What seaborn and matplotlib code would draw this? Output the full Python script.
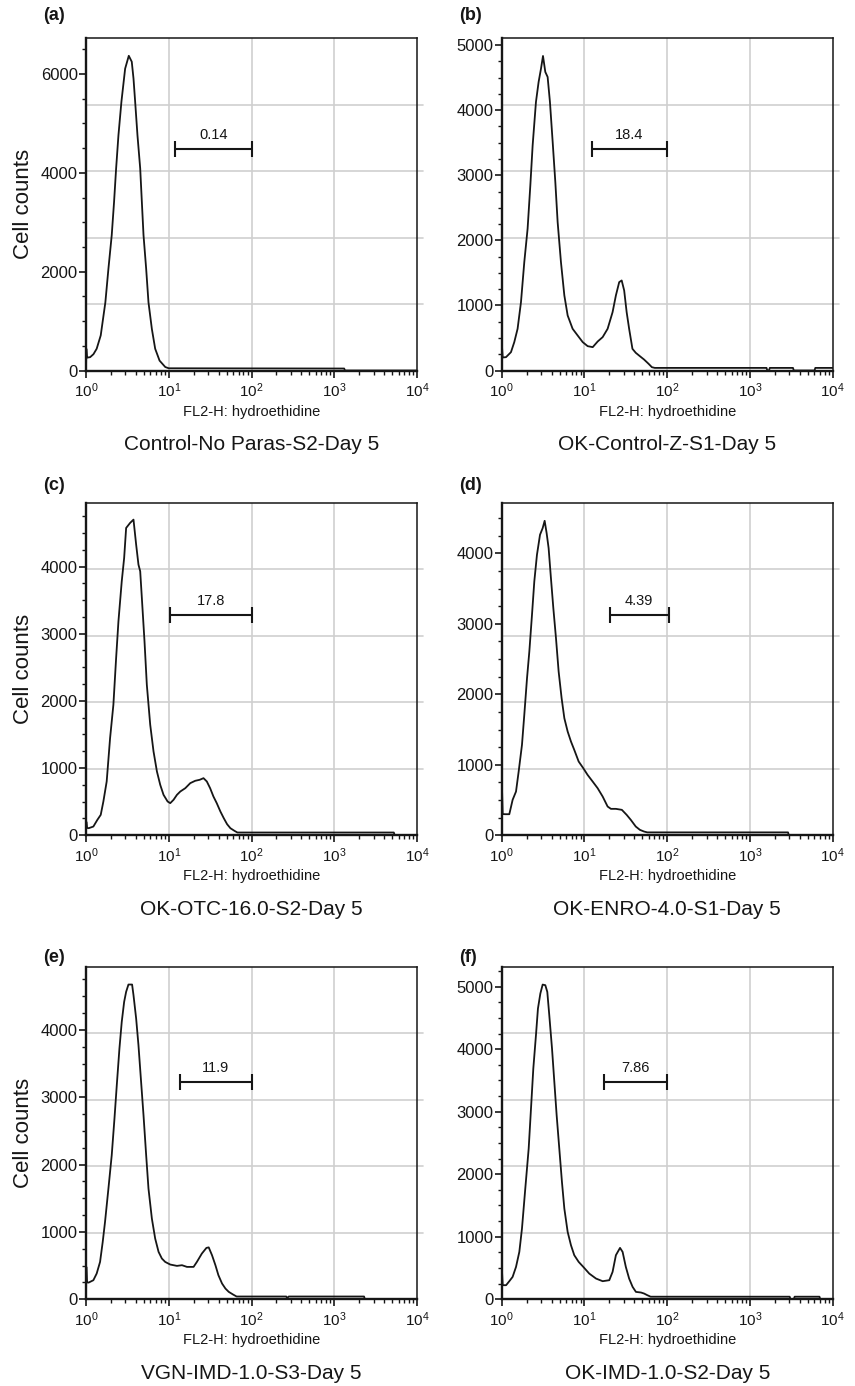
import numpy as np
import matplotlib
matplotlib.use("Agg")
import matplotlib.pyplot as plt
from matplotlib.ticker import MultipleLocator, LogLocator, NullFormatter
import seaborn as sns

# ---------------------------------------------------------------
# FL2-H (hydroethidine) histograms, six samples, day 5
# x values are read as decades (log10 of FL2-H), y = cell counts
# ---------------------------------------------------------------

a_log_fl = [0, 0.004, 0.012, 0.05, 0.09, 0.129, 0.178, 0.234, 0.271, 0.311,
            0.339, 0.364, 0.392, 0.428, 0.473, 0.517, 0.553, 0.574, 0.594, 0.622,
            0.655, 0.675, 0.695, 0.727, 0.755, 0.796, 0.836, 0.889, 0.958, 1.0,
            3.12, 3.13, 4.0]
a_counts = [0, 440, 260, 270, 330, 440, 710, 1380, 2060, 2740,
            3410, 4090, 4760, 5440, 6110, 6370, 6250, 5910, 5440, 4760,
            4090, 3410, 2740, 2060, 1380, 840, 440, 200, 70, 45,
            40, 0, 0]

b_log_fl = [0, 0.004, 0.012, 0.052, 0.112, 0.152, 0.192, 0.233, 0.273, 0.313,
            0.346, 0.374, 0.414, 0.446, 0.475, 0.499, 0.527, 0.555, 0.583, 0.616,
            0.648, 0.676, 0.716, 0.757, 0.797, 0.857, 0.918, 0.979, 1.039, 1.1,
            1.16, 1.22, 1.28, 1.34, 1.38, 1.42, 1.45, 1.48, 1.51, 1.54,
            1.58, 1.62, 1.67, 1.72, 1.775, 1.815, 1.85, 3.2, 3.21, 3.23,
            3.24, 3.52, 3.53, 3.78, 3.79, 4.0]
b_counts = [0, 360, 200, 205, 282, 436, 641, 1051, 1666, 2179,
            2845, 3461, 4127, 4434, 4640, 4834, 4588, 4511, 4127, 3511,
            2896, 2281, 1666, 1154, 846, 641, 538, 436, 374, 359,
            446, 513, 641, 897, 1154, 1358, 1384, 1230, 897, 641,
            333, 272, 220, 169, 103, 51, 40, 40, 0, 0,
            40, 40, 0, 0, 40, 40]

c_log_fl = [0, 0.004, 0.012, 0.032, 0.089, 0.137, 0.178, 0.21, 0.25, 0.291,
            0.331, 0.364, 0.392, 0.432, 0.461, 0.485, 0.533, 0.574, 0.606, 0.634,
            0.655, 0.675, 0.707, 0.735, 0.776, 0.816, 0.857, 0.897, 0.937, 0.986,
            1.018, 1.058, 1.099, 1.14, 1.2, 1.26, 1.32, 1.374, 1.42, 1.46,
            1.5, 1.54, 1.58, 1.624, 1.665, 1.705, 1.745, 1.794, 1.83, 3.72,
            3.73, 4.0]
c_counts = [0, 200, 110, 104, 129, 228, 303, 502, 800, 1445,
            1942, 2637, 3184, 3780, 4127, 4574, 4649, 4698, 4326, 4028,
            3929, 3531, 2886, 2240, 1644, 1247, 949, 750, 601, 502,
            477, 527, 601, 651, 700, 775, 810, 825, 849, 800,
            700, 576, 477, 353, 253, 164, 104, 65, 40, 40,
            0, 0]

d_log_fl = [0, 0.004, 0.012, 0.044, 0.092, 0.132, 0.173, 0.205, 0.245, 0.273,
            0.306, 0.334, 0.366, 0.394, 0.426, 0.463, 0.495, 0.519, 0.543, 0.567,
            0.595, 0.624, 0.656, 0.688, 0.724, 0.757, 0.797, 0.837, 0.877, 0.93,
            0.986, 1.038, 1.099, 1.159, 1.22, 1.28, 1.32, 1.38, 1.452, 1.51,
            1.56, 1.62, 1.67, 1.72, 1.76, 3.46, 3.47, 4.0]
d_counts = [0, 650, 300, 298, 298, 502, 620, 904, 1282, 1708,
            2229, 2608, 3128, 3602, 3980, 4265, 4359, 4463, 4288, 4075,
            3649, 3223, 2797, 2324, 1945, 1661, 1472, 1330, 1211, 1046,
            951, 856, 762, 668, 549, 407, 374, 374, 360, 289,
            218, 123, 76, 52, 40, 40, 0, 0]

e_log_fl = [0, 0.004, 0.012, 0.032, 0.089, 0.129, 0.17, 0.202, 0.23, 0.271,
            0.311, 0.344, 0.372, 0.404, 0.432, 0.461, 0.485, 0.513, 0.557, 0.574,
            0.606, 0.634, 0.663, 0.695, 0.727, 0.755, 0.796, 0.836, 0.877, 0.917,
            0.957, 1.018, 1.099, 1.16, 1.22, 1.3, 1.34, 1.4, 1.455, 1.483,
            1.523, 1.564, 1.6, 1.644, 1.685, 1.725, 1.778, 1.82, 2.42, 2.43,
            2.45, 3.36, 3.37, 4.0]
e_counts = [0, 480, 250, 247, 282, 381, 554, 851, 1149, 1644,
            2140, 2684, 3180, 3724, 4121, 4418, 4567, 4675, 4675, 4517,
            4170, 3774, 3278, 2734, 2140, 1644, 1198, 901, 703, 604,
            554, 515, 495, 505, 480, 480, 554, 678, 762, 770,
            653, 505, 357, 233, 158, 109, 69, 40, 40, 15,
            40, 40, 0, 0]

f_log_fl = [0, 0.004, 0.012, 0.053, 0.092, 0.132, 0.173, 0.213, 0.245, 0.285,
            0.326, 0.354, 0.382, 0.414, 0.438, 0.467, 0.495, 0.527, 0.551, 0.575,
            0.608, 0.636, 0.664, 0.696, 0.728, 0.757, 0.797, 0.837, 0.877, 0.93,
            0.986, 1.058, 1.14, 1.22, 1.3, 1.34, 1.38, 1.43, 1.461, 1.5,
            1.54, 1.582, 1.622, 1.683, 1.72, 1.76, 1.8, 3.48, 3.49, 3.53,
            3.54, 3.84, 3.85, 4.0]
f_counts = [0, 440, 224, 224, 288, 357, 517, 757, 1130, 1770,
            2410, 3050, 3690, 4224, 4650, 4890, 5034, 5024, 4917, 4544,
            4010, 3477, 2944, 2410, 1877, 1450, 1077, 864, 704, 597,
            517, 410, 330, 288, 304, 437, 704, 821, 757, 517,
            330, 197, 117, 107, 91, 64, 40, 40, 0, 0,
            40, 40, 0, 0]

panel_tags = ["(a)", "(b)", "(c)", "(d)", "(e)", "(f)"]
sample_names = ["Control-No Paras-S2-Day 5", "OK-Control-Z-S1-Day 5",
                "OK-OTC-16.0-S2-Day 5", "OK-ENRO-4.0-S1-Day 5",
                "VGN-IMD-1.0-S3-Day 5", "OK-IMD-1.0-S2-Day 5"]
gate_pct = ["0.14", "18.4", "17.8", "4.39", "11.9", "7.86"]
gate_lo = [12.0, 12.2, 10.4, 20.3, 13.8, 17.3]
gate_hi = [100, 100, 100, 104, 100, 100]
gate_y = [4490, 3410, 3280, 3125, 3233, 3480]
y_max = [6730, 5110, 4950, 4720, 4940, 5320]
y_major = [2000, 1000, 1000, 1000, 1000, 1000]
y_minor = [500, 250, 250, 250, 250, 250]

all_log_fl = [a_log_fl, b_log_fl, c_log_fl, d_log_fl, e_log_fl, f_log_fl]
all_counts = [a_counts, b_counts, c_counts, d_counts, e_counts, f_counts]

# ---------------------------------------------------------------
sns.set_style("ticks")
plt.rcParams['font.family'] = ['Liberation Sans', 'DejaVu Sans']
plt.rcParams['mathtext.fontset'] = 'custom'
plt.rcParams['mathtext.rm'] = 'Liberation Sans'
plt.rcParams['mathtext.it'] = 'Liberation Sans:italic'
plt.rcParams['mathtext.bf'] = 'Liberation Sans:bold'

W, H = 855, 1386
fig = plt.figure(figsize=(W / 100, H / 100), dpi=100)

# axes boxes in pixels: left, top
col_left = [86, 501.7]
row_top = [38, 502.7, 966.7]
ax_w, ax_h = 331, 332.5
tag_y = [15, 486, 958]
tag_x = [43, 459]

grid_col = "#cfcfcf"
ink = "#161616"

for i in range(6):
    r, c = divmod(i, 2)
    left = col_left[c] / W
    bottom = 1 - (row_top[r] + ax_h) / H
    ax = fig.add_axes([left, bottom, ax_w / W, ax_h / H])

    # grid: decades on x, five equal bands on y
    for dec in [10, 100, 1000]:
        ax.axvline(dec, color=grid_col, lw=1.2, zorder=0)
    for k in range(1, 5):
        ax.axhline(y_max[i] * k / 5, xmin=0, xmax=1.018, color=grid_col,
                   lw=1.2, zorder=0, clip_on=False)

    fl = np.power(10.0, all_log_fl[i])
    sns.lineplot(x=fl, y=all_counts[i], sort=False, estimator=None,
                 color=ink, linewidth=1.3, ax=ax, zorder=3)

    # gate marker
    ax.plot([gate_lo[i], gate_hi[i]], [gate_y[i], gate_y[i]], color=ink,
            lw=1.5, marker='|', markersize=12, markeredgewidth=1.5, zorder=4)
    ax.annotate(gate_pct[i], xy=(np.sqrt(gate_lo[i] * gate_hi[i]), gate_y[i]),
                xytext=(0, 5), textcoords='offset points',
                ha='center', va='bottom', fontsize=10.5, color=ink)

    ax.set_xscale('log')
    ax.set_xlim(1, 10000)
    ax.set_ylim(0, y_max[i])
    ax.set_xticks([1, 10, 100, 1000, 10000])
    ax.set_xticklabels([r'$10^{0}$', r'$10^{1}$', r'$10^{2}$', r'$10^{3}$', r'$10^{4}$'])
    ax.xaxis.set_minor_locator(LogLocator(base=10, subs=np.arange(2, 10)))
    ax.xaxis.set_minor_formatter(NullFormatter())
    ax.yaxis.set_major_locator(MultipleLocator(y_major[i]))
    ax.yaxis.set_minor_locator(MultipleLocator(y_minor[i]))

    ax.tick_params(axis='both', which='major', direction='out', length=5,
                   width=1.2, color=ink, labelcolor=ink)
    ax.tick_params(axis='both', which='minor', direction='out', length=3,
                   width=1.0, color=ink)
    ax.tick_params(axis='y', which='major', labelsize=12, pad=1)
    ax.tick_params(axis='x', which='major', labelsize=11, pad=3)

    for side in ['left', 'bottom']:
        ax.spines[side].set_linewidth(1.7)
        ax.spines[side].set_color(ink)
    for side in ['top', 'right']:
        ax.spines[side].set_linewidth(1.1)
        ax.spines[side].set_color(ink)
    ax.set_xlabel('')
    ax.set_ylabel('')

    ax.text(0.5, -41 / ax_h, 'FL2-H: hydroethidine', transform=ax.transAxes,
            ha='center', va='center', fontsize=10.5, color=ink)
    ax.text(0.5, -74 / ax_h, sample_names[i], transform=ax.transAxes,
            ha='center', va='center', fontsize=15, color=ink)
    if c == 0:
        ax.text(-63 / ax_w, 0.5, 'Cell counts', transform=ax.transAxes,
                rotation=90, ha='center', va='center', fontsize=16, color=ink)

    fig.text(tag_x[c] / W, 1 - tag_y[r] / H, panel_tags[i], ha='left',
             va='center', fontsize=13, fontweight='bold', color=ink)

fig.savefig('out.png', dpi=100, facecolor='white')
